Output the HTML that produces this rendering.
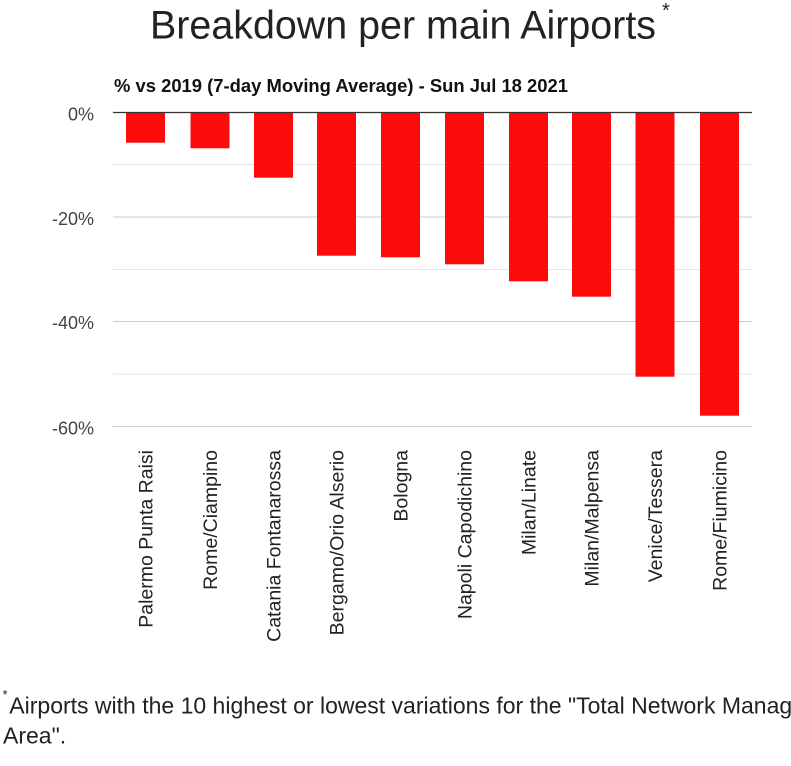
<!DOCTYPE html>
<html>
<head>
<meta charset="utf-8">
<style>
  html, body { margin:0; padding:0; background:#fff; }
  body { width:791px; height:766px; overflow:hidden; }
  svg { display:block; }
  text { font-family: "Liberation Sans", Arial, sans-serif; }
</style>
</head>
<body>
<svg width="791" height="766" viewBox="0 0 791 766" xmlns="http://www.w3.org/2000/svg">
  <rect x="0" y="0" width="791" height="766" fill="#fff"/>

  <!-- Title -->
  <text x="150" y="38.5" font-size="39.5" fill="#222" textLength="506" lengthAdjust="spacingAndGlyphs">Breakdown per main Airports</text>
  <text x="662" y="17" font-size="20" fill="#222">*</text>

  <!-- Subtitle -->
  <text x="114" y="92" font-size="18.4" font-weight="bold" fill="#111" textLength="454" lengthAdjust="spacingAndGlyphs">% vs 2019 (7-day Moving Average) - Sun Jul 18 2021</text>

  <!-- Gridlines -->
  <g stroke-width="1" shape-rendering="crispEdges">
    <line x1="113" y1="164.6" x2="752" y2="164.6" stroke="#e6e6e6"/>
    <line x1="113" y1="216.9" x2="752" y2="216.9" stroke="#cccccc"/>
    <line x1="113" y1="269.3" x2="752" y2="269.3" stroke="#e6e6e6"/>
    <line x1="113" y1="321.6" x2="752" y2="321.6" stroke="#cccccc"/>
    <line x1="113" y1="373.9" x2="752" y2="373.9" stroke="#e6e6e6"/>
    <line x1="112" y1="426.3" x2="752" y2="426.3" stroke="#cccccc"/>
  </g>

  <!-- Bars -->
  <g fill="#fd0b0b">
    <rect x="126"   y="112.3" width="39" height="30.4"/>
    <rect x="190.5" y="112.3" width="39" height="36.0"/>
    <rect x="254"   y="112.3" width="39" height="65.4"/>
    <rect x="317"   y="112.3" width="39" height="143.4"/>
    <rect x="381"   y="112.3" width="39" height="145.0"/>
    <rect x="445"   y="112.3" width="39" height="152.0"/>
    <rect x="509"   y="112.3" width="39" height="169.0"/>
    <rect x="572"   y="112.3" width="39" height="184.4"/>
    <rect x="635.5" y="112.3" width="39" height="264.4"/>
    <rect x="700"   y="112.3" width="39" height="303.4"/>
  </g>

  <!-- Zero line -->
  <line x1="113" y1="112.5" x2="752" y2="112.5" stroke="#333" stroke-width="1.2"/>

  <!-- Y tick labels -->
  <g font-size="18" fill="#444" text-anchor="end">
    <text x="94" y="120.5">0%</text>
    <text x="94" y="224.8">-20%</text>
    <text x="94" y="329">-40%</text>
    <text x="94" y="434.5">-60%</text>
  </g>

  <!-- X labels (rotated) -->
  <g font-size="19.5" fill="#222" text-anchor="end">
    <text transform="translate(152.5,450) rotate(-90)">Palermo Punta Raisi</text>
    <text transform="translate(217,450) rotate(-90)">Rome/Ciampino</text>
    <text transform="translate(280.5,450) rotate(-90)">Catania Fontanarossa</text>
    <text transform="translate(343.5,450) rotate(-90)">Bergamo/Orio Alserio</text>
    <text transform="translate(407.5,450) rotate(-90)">Bologna</text>
    <text transform="translate(471.5,450) rotate(-90)">Napoli Capodichino</text>
    <text transform="translate(535.5,450) rotate(-90)">Milan/Linate</text>
    <text transform="translate(598.5,450) rotate(-90)">Milan/Malpensa</text>
    <text transform="translate(662,450) rotate(-90)">Venice/Tessera</text>
    <text transform="translate(726.5,450) rotate(-90)">Rome/Fiumicino</text>
  </g>

  <!-- Footnote -->
  <text x="2.5" y="699" font-size="13" fill="#222">*</text>
  <text x="9.3" y="713.3" font-size="23" fill="#222">Airports with the 10 highest or lowest variations for the "Total Network Manager</text>
  <text x="3" y="743.3" font-size="23" fill="#222">Area".</text>
</svg>
</body>
</html>
